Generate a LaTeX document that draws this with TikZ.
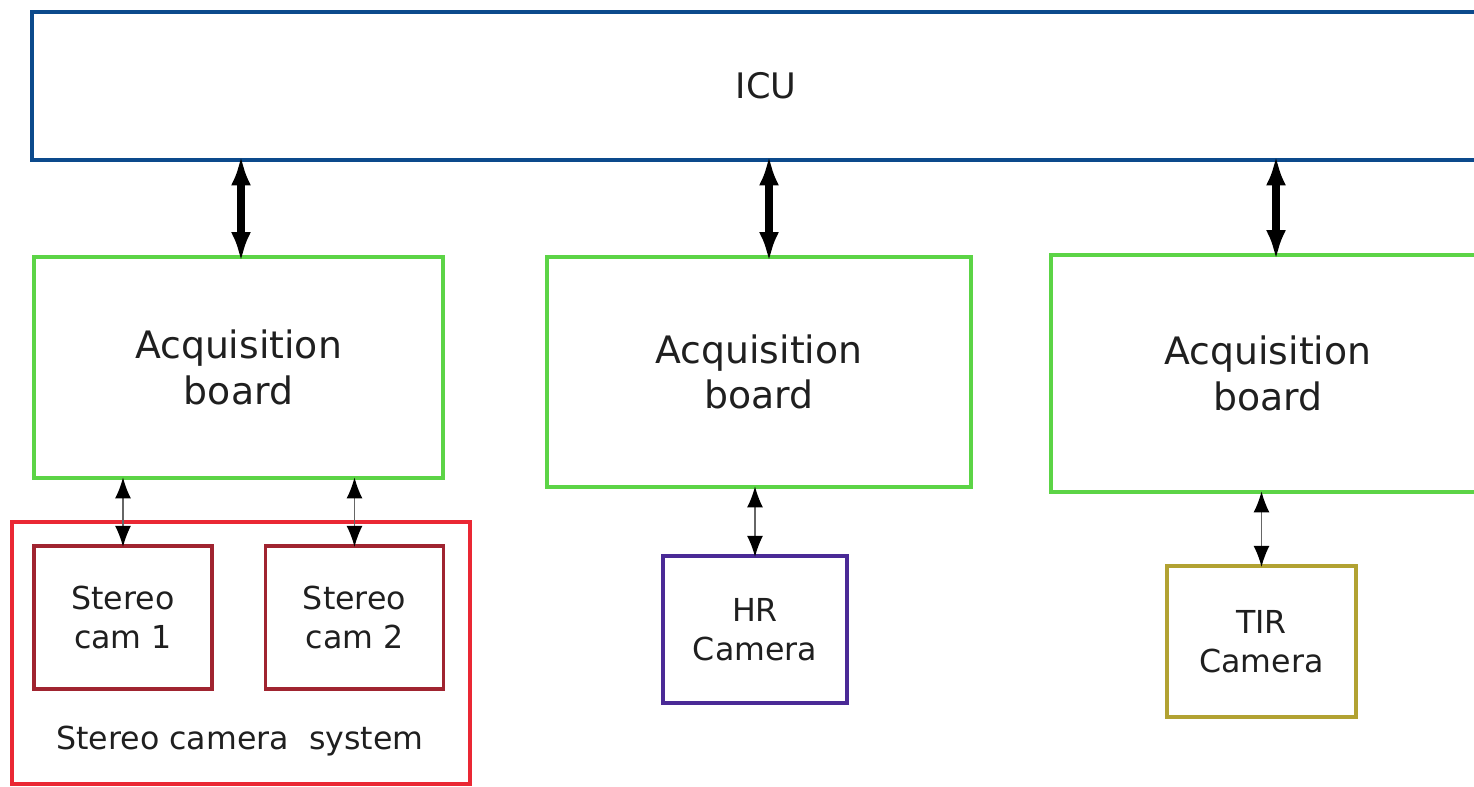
\documentclass[tikz,border=0pt]{standalone}
\usepackage{fontspec}
\setmainfont{DejaVu Sans}
\usepackage{tikz}
\usetikzlibrary{positioning}
\usetikzlibrary{arrows.meta,calc}
\definecolor{icublue}{RGB}{12,74,140}
\definecolor{acqgreen}{RGB}{92,212,70}
\definecolor{sysred}{RGB}{234,40,52}
\definecolor{camred}{RGB}{160,36,48}
\definecolor{hrpurple}{RGB}{74,42,150}
\definecolor{tirolive}{RGB}{178,162,50}
\tikzstyle{every node}=[font=\fontsize{18}{22.5}\selectfont, text=black!88]
\tikzstyle{icubox}=[draw=icublue, line width=2.8pt, inner sep=0pt]
\tikzstyle{acqbox}=[draw=acqgreen, line width=2.3pt, inner sep=0pt, align=center,
  font=\fontsize{21.5}{26}\selectfont]
\tikzstyle{cambox}=[line width=2pt, inner sep=0pt, align=center]
\tikzstyle{bigarrow}=[line width=0.15cm, shorten <=-4pt, shorten >=-4pt,
  {Latex[length=0.6cm,width=0.4cm]}-{Latex[length=0.6cm,width=0.4cm]}]
\tikzstyle{smallarrow}=[line width=0.8pt, draw=black!60, shorten <=-1.5pt, shorten >=-1.5pt,
  {Latex[length=0.42cm,width=0.32cm,color=black]}-{Latex[length=0.42cm,width=0.32cm,color=black]}]

\begin{document}
\begin{tikzpicture}
  \useasboundingbox (0,0) rectangle (29.48,-15.72);
  \begin{scope}
    \clip (0,0) rectangle (29.48,-15.72);
    % ICU
    \node[icubox, minimum width=29.36cm, minimum height=2.96cm,
      font=\fontsize{20}{24}\selectfont] (icu) at (15.32,-1.72) {ICU};
    % acquisition boards
    \node[acqbox, minimum width=8.18cm, minimum height=4.42cm] (acq1) at (4.77,-7.35) {Acquisition\\board};
    \node[acqbox, minimum width=8.48cm, minimum height=4.6cm] (acq2) at (15.18,-7.44) {Acquisition\\board};
    \node[acqbox, minimum width=8.68cm, minimum height=4.74cm] (acq3) at (25.36,-7.47) {Acquisition\\board};
    % stereo camera system
    \node[draw=sysred, line width=1.8pt, minimum width=9.16cm, minimum height=5.24cm] (stereo) at (4.82,-13.06) {};
    \node (stereolbl) at (4.8,-14.82) {Stereo camera~ system};
    \node[cambox, draw=camred, minimum width=3.56cm, minimum height=2.86cm] (cam1) at (2.46,-12.35) {Stereo\\cam 1};
    \node[cambox, draw=camred, minimum width=3.56cm, minimum height=2.86cm] (cam2) at (7.09,-12.35) {Stereo\\cam 2};
    % single cameras
    \node[cambox, draw=hrpurple, minimum width=3.68cm, minimum height=2.94cm] (hr) at (15.1,-12.59) {HR\\Camera};
    \node[cambox, draw=tirolive, minimum width=3.78cm, minimum height=3.02cm] (tir) at (25.23,-12.83) {TIR\\Camera};
    % ICU links
    \foreach \acq/\dx in {acq1/0.05,acq2/0.2,acq3/0.16}
     {
      \coordinate (in\acq) at ($(\acq.north)+(\dx,0)$);
      \draw[bigarrow] (in\acq |- icu.south) -- (in\acq);
     }
    % camera links
    \foreach \cam/\acq in {cam1/acq1,cam2/acq1,hr/acq2,tir/acq3}
     {
      \draw[smallarrow] (\cam.north |- \acq.south) -- (\cam.north);
     }
  \end{scope}
\end{tikzpicture}
\end{document}
